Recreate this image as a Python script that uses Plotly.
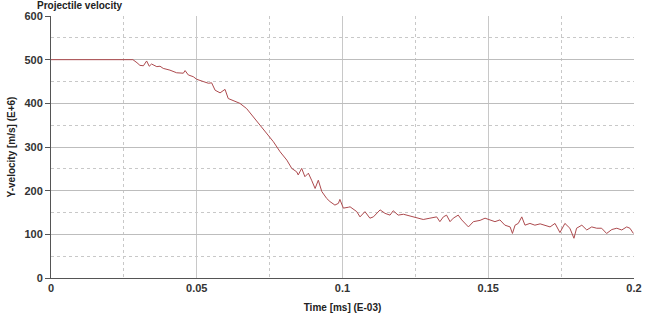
import plotly.graph_objects as go

time_ms = [0.0, 0.0281, 0.0295, 0.0305, 0.0317, 0.0328, 0.0337, 0.0345, 0.0363, 0.0374, 0.0385,
           0.0408, 0.0431, 0.0454, 0.0460, 0.0471, 0.0488, 0.0500, 0.0522, 0.0540, 0.0551,
           0.0563, 0.0580, 0.0597, 0.0608, 0.0631, 0.0648, 0.0671, 0.0694, 0.0717, 0.0728,
           0.0751, 0.0763, 0.0786, 0.0809, 0.0826, 0.0843, 0.0848, 0.0860, 0.0871, 0.0883,
           0.0894, 0.0906, 0.0917, 0.0929, 0.0946, 0.0957, 0.0974, 0.0986, 0.0991, 0.1003,
           0.1020, 0.1026, 0.1049, 0.1060, 0.1077, 0.1094, 0.1106, 0.1129, 0.1146, 0.1163,
           0.1174, 0.1191, 0.1209, 0.1232, 0.1255, 0.1277, 0.1300, 0.1323, 0.1334, 0.1346,
           0.1357, 0.1369, 0.1380, 0.1397, 0.1409, 0.1432, 0.1449, 0.1472, 0.1489, 0.1506,
           0.1523, 0.1540, 0.1557, 0.1575, 0.1583, 0.1592, 0.1603, 0.1615, 0.1626, 0.1643,
           0.1660, 0.1678, 0.1695, 0.1712, 0.1729, 0.1746, 0.1763, 0.1780, 0.1794, 0.1803,
           0.1821, 0.1838, 0.1855, 0.1872, 0.1889, 0.1906, 0.1924, 0.1941, 0.1958, 0.1975,
           0.1986, 0.1998]
velocity = [500, 500, 493, 487, 486, 497, 485, 490, 484, 485, 480,
            476, 470, 469, 475, 465, 461, 455, 450, 446, 447,
            430, 424, 432, 411, 404, 400, 388, 369, 350, 339,
            320, 312, 289, 270, 251, 243, 236, 251, 232, 240,
            224, 205, 224, 198, 182, 175, 167, 171, 180, 160,
            162, 163, 152, 140, 152, 137, 140, 156, 148, 144,
            154, 144, 146, 142, 137, 134, 137, 140, 129, 140,
            144, 129, 137, 144, 133, 117, 129, 132, 137, 133,
            129, 133, 121, 117, 102, 121, 125, 140, 121, 125,
            121, 124, 121, 117, 125, 104, 125, 114, 91, 114,
            121, 110, 117, 114, 114, 102, 111, 114, 110, 117,
            114, 102]

x_ticks = [0, 0.05, 0.1, 0.15, 0.2]
x_tick_labels = ["0", "0.05", "0.1", "0.15", "0.2"]
y_ticks = [0, 100, 200, 300, 400, 500, 600]

font_family = "Liberation Sans, Arial, sans-serif"

fig = go.Figure()
fig.add_trace(go.Scatter(x=time_ms, y=velocity, mode="lines",
                         line=dict(color="#ad4a4e", width=1), showlegend=False))

fig.add_shape(type="line", xref="x", yref="paper", x0=0.1, x1=0.1, y0=0, y1=1,
              line=dict(color="#6a6a6a", width=1), layer="below")

fig.update_layout(
    width=650, height=326,
    margin=dict(l=51, r=16, t=16, b=48),
    paper_bgcolor="white", plot_bgcolor="white",
    font=dict(family=font_family, color="#222"),
    title=dict(text="Projectile velocity", x=0.057, xanchor="left", y=0.995, yanchor="top",
               font=dict(size=10, weight="bold", color="#222")),
)
fig.update_xaxes(
    range=[0, 0.2], tickvals=x_ticks, ticktext=x_tick_labels,
    showgrid=True, gridcolor="#c8c8c8", gridwidth=1,
    minor=dict(dtick=0.025, showgrid=True, gridcolor="#c8c8c8", griddash="dot", gridwidth=1),
    showline=True, linecolor="#555", linewidth=1, mirror=False,
    ticks="", tickfont=dict(size=11, weight="bold", color="#333"),
    title=dict(text="Time [ms] (E-03)", font=dict(size=10, weight="bold", color="#222"), standoff=10),
    zeroline=False, automargin=False,
)
fig.update_yaxes(
    range=[0, 600], tickvals=y_ticks,
    showgrid=True, gridcolor="#bdbdbd", gridwidth=1,
    minor=dict(dtick=50, showgrid=True, gridcolor="#c8c8c8", griddash="dot", gridwidth=1),
    showline=True, linecolor="#555", linewidth=1,
    ticks="outside", ticklen=5, tickcolor="#555",
    tickfont=dict(size=11, weight="bold", color="#333"),
    title=dict(text="Y-velocity [m/s] (E+6)", font=dict(size=10, weight="bold", color="#222"), standoff=6),
    zeroline=False, automargin=False,
)

fig.write_html("out.html", config={"displayModeBar": False},
               post_script="document.body.style.margin='0';")
